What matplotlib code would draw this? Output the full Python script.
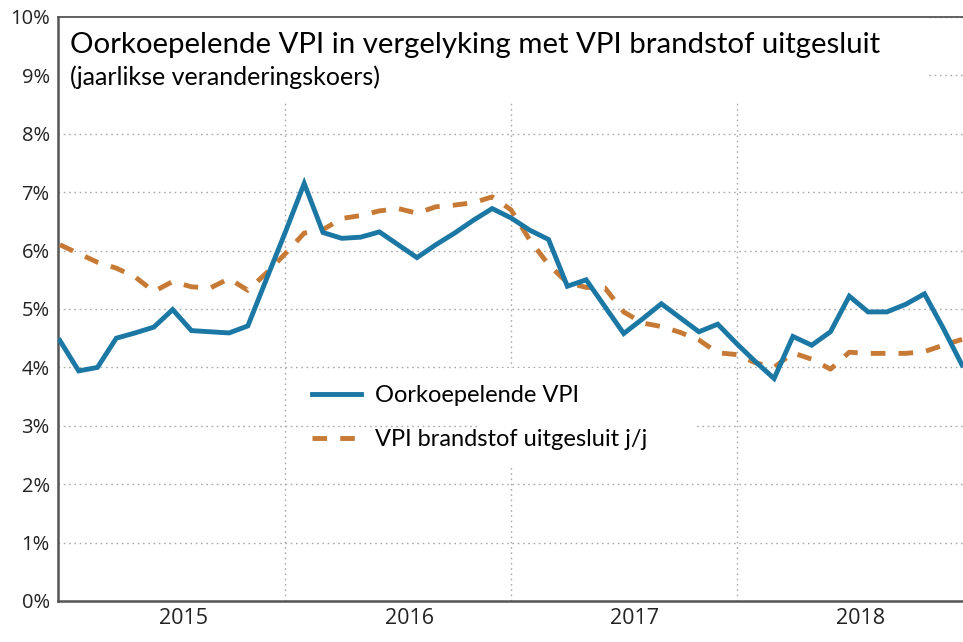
import numpy as np
import matplotlib
matplotlib.use("Agg")
import matplotlib.pyplot as plt
from matplotlib.patches import Rectangle

# monthly data, index 0 = Jan 2015
vpi_total = [4.46, 3.94, 4.00, 4.50, 4.59, 4.69, 4.99, 4.63, 4.61, 4.59, 4.71, 5.52,
             6.32, 7.15, 6.31, 6.21, 6.23, 6.32, 6.10, 5.88, 6.10, 6.30, 6.52, 6.72,
             6.56, 6.35, 6.19, 5.39, 5.50, 5.04, 4.58, 4.83, 5.09, 4.85, 4.61, 4.74,
             4.41, 4.10, 3.81, 4.53, 4.38, 4.61, 5.22, 4.95, 4.95, 5.08, 5.26, 4.67,
             4.04]
vpi_ex_fuel = [6.10, 5.95, 5.80, 5.70, 5.55, 5.30, 5.47, 5.38, 5.36, 5.52, 5.32, 5.62,
               5.95, 6.30, 6.36, 6.55, 6.60, 6.68, 6.72, 6.64, 6.75, 6.78, 6.82, 6.92,
               6.70, 6.18, 5.76, 5.45, 5.37, 5.36, 4.95, 4.76, 4.70, 4.60, 4.47, 4.25,
               4.22, 4.08, 4.00, 4.25, 4.14, 3.97, 4.26, 4.24, 4.24, 4.24, 4.27, 4.38,
               4.48]
years = ["2015", "2016", "2017", "2018"]
year_breaks = [12, 24, 36]
y_ticks = list(range(0, 11))

blue = "#1b77a3"
orange = "#c67a35"

fig = plt.figure(figsize=(9.63, 6.42), dpi=100)
ax = fig.add_axes([58 / 963, 1 - 601 / 642, 1 - 58 / 963, (601 - 17) / 642])

months = np.arange(len(vpi_total))
ax.plot(months, vpi_total, color=blue, lw=3.5, solid_joinstyle="miter",
        label="Oorkoepelende VPI", zorder=4)
ax.plot(months, vpi_ex_fuel, color=orange, lw=3.5, dashes=(3.0, 2.7),
        label="VPI brandstof uitgesluit j/j", zorder=3)

ax.set_xlim(-0.1, 48.05)
ax.set_ylim(0, 10)

# grid
for y in y_ticks[1:]:
    ax.axhline(y, color="#ababab", lw=1.0, ls=(0, (1.2, 2.6)), zorder=1)
for x in year_breaks:
    ax.axvline(x, color="#ababab", lw=1.0, ls=(0, (1.2, 2.6)), zorder=1)

# white areas behind title and legend
ax.add_patch(Rectangle((0, 0.855), 0.962, 0.2, transform=ax.transAxes,
                       facecolor="white", edgecolor="none", zorder=2))
ax.add_patch(Rectangle((0.466, 0.233), 0.24, 0.166, transform=ax.transAxes,
                       facecolor="white", edgecolor="none", zorder=2))

ax.set_yticks(y_ticks)
ax.set_yticklabels([f"{v}%" for v in y_ticks], fontsize=14.5, color="#222222",
                   family="Open Sans")
ax.set_xticks([6.6, 18.6, 30.6, 42.6])
ax.set_xticklabels(years, fontsize=15.5, color="#222222", family="Open Sans")
ax.tick_params(axis="both", length=0)
ax.tick_params(axis="y", pad=6)
ax.tick_params(axis="x", pad=5)

for s in ["left", "bottom"]:
    ax.spines[s].set_color("#555555")
    ax.spines[s].set_linewidth(1.8)
ax.spines["top"].set_color("#555555")
ax.spines["top"].set_linewidth(1.3)
ax.spines["right"].set_visible(False)

fig.text(70 / 963, 1 - 53 / 642, "Oorkoepelende VPI in vergelyking met VPI brandstof uitgesluit",
         fontsize=21.2, family="Lato", va="baseline", ha="left", zorder=5)
fig.text(70 / 963, 1 - 85 / 642, "(jaarlikse veranderingskoers)",
         fontsize=18, family="Lato", va="baseline", ha="left", zorder=5)

leg = ax.legend(loc="upper left", bbox_to_anchor=(303 / 963, 1 - 376 / 642),
                bbox_transform=fig.transFigure, frameon=False,
                prop={"family": "Lato", "size": 17}, handlelength=2.05,
                handletextpad=0.58, labelspacing=0.95, borderaxespad=0)
leg.set_zorder(6)

fig.savefig("out.png", dpi=100)
